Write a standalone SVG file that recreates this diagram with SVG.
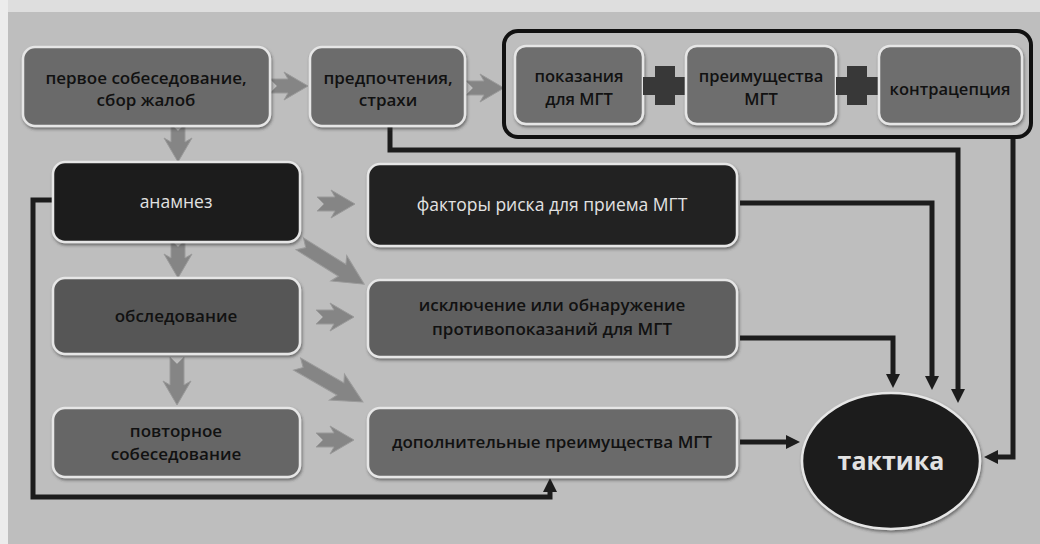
<svg xmlns="http://www.w3.org/2000/svg" xmlns:xlink="http://www.w3.org/1999/xlink" width="1040" height="544" viewBox="0 0 1040 544">
<style>
.t{font-family:"Open Sans","Noto Sans","DejaVu Sans",sans-serif;font-size:17px;font-weight:600;text-anchor:middle;fill:#111}
.g{font-size:16.5px}
.w{fill:#e2e2e2;font-weight:400;font-size:17.5px}
.n{stroke:#e6e6e6;stroke-width:2.5;filter:url(#sh)}
.c{fill:none;stroke:#1c1c1c;stroke-width:5;marker-end:url(#ah)}
.ba{fill:#858585;stroke:#9a9a9a;stroke-width:1}
</style>
<defs>
<filter id="sh" x="-10%" y="-10%" width="120%" height="130%">
<feDropShadow dx="1" dy="2" stdDeviation="1.5" flood-color="#333" flood-opacity="0.6"/>
</filter>
<marker id="ah" markerUnits="userSpaceOnUse" markerWidth="14" markerHeight="14" viewBox="0 0 14 14" refX="4" refY="7" orient="auto">
<path d="M0,0 L14,7 L0,14 Z" fill="#1c1c1c"/>
</marker>
<path id="ba" d="M-19,-7 L-1,-7 L-5,-14 L19,0 L-5,14 L-1,7 L-19,7 L-12,0 Z"/>
<path id="bam" d="M-24,-7 L4,-7 L0,-14 L24,0 L0,14 L4,7 L-24,7 L-17,0 Z"/>
<path id="bal" d="M-38,-7 L12,-7 L8,-15 L38,0 L8,15 L12,7 L-38,7 L-31,0 Z"/>
</defs>
<rect width="1040" height="544" fill="#bebebe"/>
<rect width="1040" height="12" fill="#dedede"/>
<rect width="8" height="544" fill="#ececec"/>

<g id="connectors">
<g class="ba">
<use href="#ba" transform="translate(289,86)"/>
<use href="#ba" transform="translate(485,88)"/>
<use href="#ba" transform="translate(178,143) rotate(90)"/>
<use href="#ba" transform="translate(178,259) rotate(90)"/>
<use href="#bam" transform="translate(177,381) rotate(90)"/>
<use href="#ba" transform="translate(336,204)"/>
<use href="#ba" transform="translate(335,317)"/>
<use href="#ba" transform="translate(335,440)"/>
<use href="#bal" transform="translate(332,264) rotate(32)"/>
<use href="#bal" transform="translate(330,383) rotate(30)"/>
</g>
<path class="c" d="M390,126 V150 H958 V393"/>
<path class="c" d="M740,203 H932 V380"/>
<path class="c" d="M740,338 H893 V378"/>
<path class="c" d="M1013,137 V457 H994"/>
<path class="c" d="M740,442 H790"/>
<path class="c" d="M54,200 H33 V497 H550 V488"/>
</g>

<g id="n1"><rect class="n" x="23" y="47" width="247" height="79" rx="12" fill="#6a6a6a"/>
<text class="t" x="146" y="84">первое собеседование,</text><text class="t" x="146" y="106">сбор жалоб</text></g>
<g id="n2"><rect class="n" x="310" y="47" width="155" height="79" rx="12" fill="#6c6c6c"/>
<text class="t" x="388" y="84">предпочтения,</text><text class="t" x="388" y="106">страхи</text></g>

<g id="group">
<rect x="504" y="31" width="527" height="106" rx="14" fill="none" stroke="#111" stroke-width="4"/>
<g id="n3"><rect class="n" x="515" y="46" width="128" height="78" rx="11" fill="#6e6e6e"/>
<text class="t g" x="579" y="82">показания</text><text class="t g" x="579" y="105">для МГТ</text></g>
<g id="plus1" fill="#383838"><rect x="643" y="77" width="44" height="18"/><rect x="655" y="66" width="20" height="39"/></g>
<g id="n4"><rect class="n" x="686" y="46" width="150" height="78" rx="11" fill="#6e6e6e"/>
<text class="t g" x="761" y="82">преимущества</text><text class="t g" x="761" y="105">МГТ</text></g>
<g id="plus2" fill="#383838"><rect x="836" y="77" width="43" height="18"/><rect x="847" y="66" width="20" height="39"/></g>
<g id="n5"><rect class="n" x="879" y="46" width="143" height="78" rx="11" fill="#6e6e6e"/>
<text class="t g" x="950" y="95">контрацепция</text></g>
</g>

<g id="n6"><rect class="n" x="53" y="162" width="247" height="80" rx="12" fill="#1e1e1e"/>
<text class="t w" x="176" y="208">анамнез</text></g>
<g id="n7"><rect class="n" x="368" y="164" width="369" height="82" rx="12" fill="#222"/>
<text class="t w" x="552" y="211">факторы риска для  приема МГТ</text></g>
<g id="n8"><rect class="n" x="53" y="278" width="247" height="76" rx="12" fill="#575757"/>
<text class="t" x="176" y="322">обследование</text></g>
<g id="n9"><rect class="n" x="368" y="280" width="369" height="77" rx="12" fill="#5e5e5e"/>
<text class="t" x="552" y="311">исключение или обнаружение</text><text class="t" x="552" y="335">противопоказаний для МГТ</text></g>
<g id="n10"><rect class="n" x="53" y="408" width="247" height="69" rx="12" fill="#666"/>
<text class="t" x="176" y="437">повторное</text><text class="t" x="176" y="460">собеседование</text></g>
<g id="n11"><rect class="n" x="368" y="408" width="369" height="69" rx="12" fill="#6a6a6a"/>
<text class="t" x="552" y="448">дополнительные преимущества МГТ</text></g>
<g id="n12"><ellipse class="n" cx="891" cy="461" rx="89" ry="68" fill="#1b1b1b"/>
<text class="t w" x="891" y="470" style="font-size:25px;font-weight:700">тактика</text></g>
</svg>
